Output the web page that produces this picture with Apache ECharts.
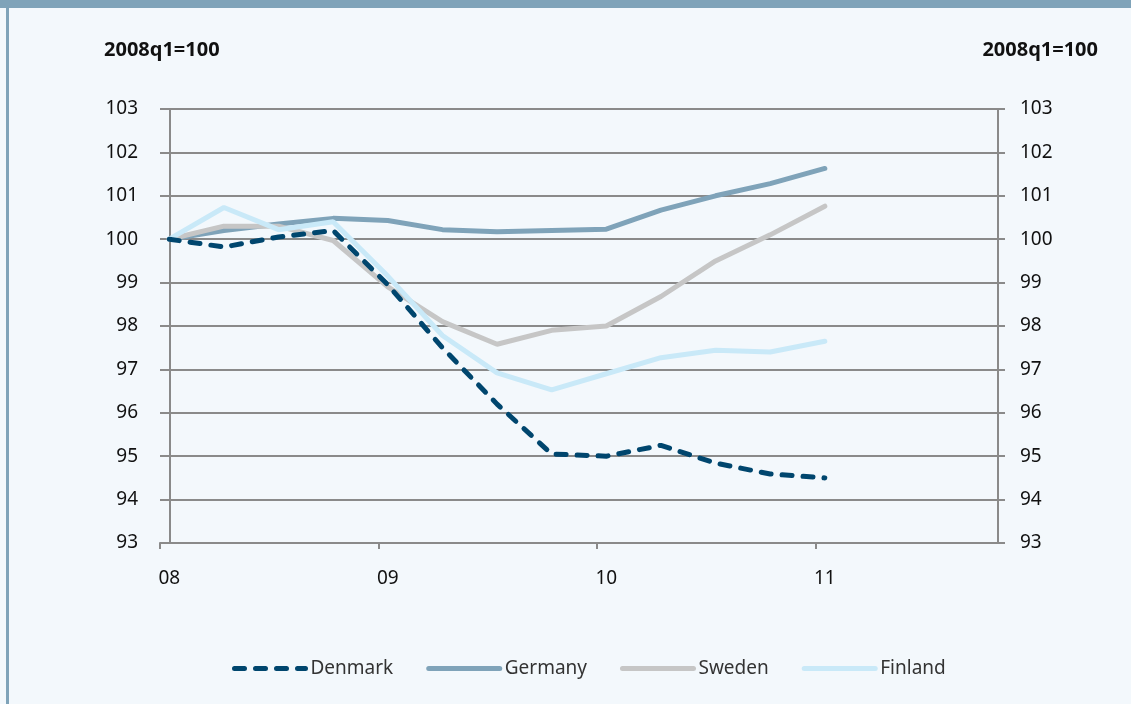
<!DOCTYPE html>
<html>
<head>
<meta charset="utf-8">
<script src="https://cdn.jsdelivr.net/npm/echarts@6/dist/echarts.min.js"></script>
<style>
html,body{margin:0;padding:0;background:#f3f8fc;}
#chart{width:1131px;height:704px;}
</style>
</head>
<body>
<div id="chart"></div>
<script>
const quarters = ['2008q1','2008q2','2008q3','2008q4','2009q1','2009q2','2009q3','2009q4','2010q1','2010q2','2010q3','2010q4','2011q1'];
const yearTickLabels = ['08','09','10','11'];
const denmark = [100, 99.82, 100.05, 100.2, 98.95, 97.5, 96.2, 95.05, 95.0, 95.25, 94.84, 94.59, 94.5];
const germany = [100, 100.2, 100.35, 100.48, 100.43, 100.22, 100.17, 100.2, 100.23, 100.67, 101.0, 101.28, 101.63];
const sweden  = [100, 100.3, 100.3, 99.97, 98.9, 98.1, 97.58, 97.9, 98.0, 98.68, 99.5, 100.1, 100.76];
const finland = [100, 100.73, 100.22, 100.4, 99.15, 97.78, 96.92, 96.53, 96.9, 97.27, 97.44, 97.4, 97.65];
const yTitle = '2008q1=100';

const FONT = '"Noto Sans", "Open Sans", sans-serif';
const AX = '#8a8a8a';
const toPts = arr => arr.map((v, i) => [i, v]);
const off = 0.17;

const chart = echarts.init(document.getElementById('chart'));
const yAxisBase = {
  type: 'value', min: 93, max: 103, interval: 1,
  axisLine: {show: true, lineStyle: {color: AX, width: 2}},
  axisTick: {show: true, length: 7, lineStyle: {color: AX, width: 2}},
  axisLabel: {color: '#111', fontFamily: FONT, fontSize: 19, margin: 22}
};
chart.setOption({
  backgroundColor: '#f3f8fc',
  animation: false,
  graphic: [
    {type: 'rect', shape: {x: 0, y: 0, width: 1131, height: 8}, style: {fill: '#7fa3b9'}},
    {type: 'rect', shape: {x: 6, y: 0, width: 3, height: 704}, style: {fill: '#7fa3b9'}},
    {type: 'text', left: 104, top: 40, style: {text: yTitle, font: 'bold 20px ' + FONT, fill: '#111'}},
    {type: 'text', right: 33, top: 40, style: {text: yTitle, font: 'bold 20px ' + FONT, fill: '#111'}}
  ],
  grid: {left: 160, right: 133, top: 109, bottom: 161, containLabel: false},
  legend: {
    left: 227, top: 654, itemWidth: 71, itemHeight: 20, itemGap: 33,
    itemStyle: {opacity: 0},
    lineStyle: {width: 5, cap: 'round'},
    textStyle: {fontFamily: FONT, fontSize: 19, color: '#333'},
    data: ['Denmark', 'Germany', 'Sweden', 'Finland']
  },
  xAxis: {
    type: 'value', min: -off, max: quarters.length + 2 + off,
    splitLine: {show: false},
    axisLine: {show: true, onZero: false, lineStyle: {color: AX, width: 2}},
    axisTick: {show: true, length: 6, lineStyle: {color: AX, width: 2},
      customValues: yearTickLabels.map((l, k) => k * 4 - off)},
    axisLabel: {color: '#111', fontFamily: FONT, fontSize: 19, margin: 26,
      customValues: yearTickLabels.map((l, k) => k * 4),
      formatter: v => yearTickLabels[Math.round(v / 4)] || ''}
  },
  yAxis: [
    Object.assign({}, yAxisBase, {position: 'left',
      splitLine: {show: true, lineStyle: {color: AX, width: 2}}}),
    Object.assign({}, yAxisBase, {position: 'right', splitLine: {show: false}})
  ],
  series: [
    {name: 'Denmark', type: 'line', data: toPts(denmark), symbol: 'none', z: 5,
      lineStyle: {color: '#00466e', width: 5, type: [10, 11], cap: 'round'}, itemStyle: {color: '#00466e'}},
    {name: 'Germany', type: 'line', data: toPts(germany), symbol: 'none', z: 2,
      lineStyle: {color: '#7fa3b9', width: 5, cap: 'round'}, itemStyle: {color: '#7fa3b9'}},
    {name: 'Sweden', type: 'line', data: toPts(sweden), symbol: 'none', z: 3,
      lineStyle: {color: '#c6c6c6', width: 5, cap: 'round'}, itemStyle: {color: '#c6c6c6'}},
    {name: 'Finland', type: 'line', data: toPts(finland), symbol: 'none', z: 4,
      lineStyle: {color: '#c9e9f8', width: 5, cap: 'round'}, itemStyle: {color: '#c9e9f8'}}
  ]
});
</script>
</body>
</html>
